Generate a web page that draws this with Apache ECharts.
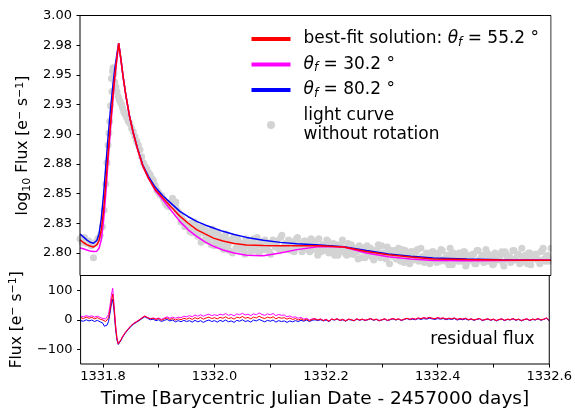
<!DOCTYPE html>
<html><head><meta charset="utf-8">
<script src="https://cdn.jsdelivr.net/npm/echarts@6/dist/echarts.min.js"></script>
<style>html,body{margin:0;padding:0;background:#fff}#c{width:575px;height:410px}</style>
</head><body><div id="c"></div>
<script>
// ---------- tick values / labels ----------
const xTickLabelValues = [1331.8, 1332.0, 1332.2, 1332.4, 1332.6];
const xTickMarkValues = [1331.8, 1331.9, 1332.0, 1332.1, 1332.2, 1332.3, 1332.4, 1332.5, 1332.6];
const yTopTickValues = [2.8, 2.825, 2.85, 2.875, 2.9, 2.925, 2.95, 2.975, 3.0];
const yTopTickLabels = ['2.80', '2.83', '2.85', '2.88', '2.90', '2.93', '2.95', '2.98', '3.00'];
const yBotTickValues = [-100, 0, 100];
const yBotTickLabels = ['\u2212100', '0', '100'];

// ---------- light curve without rotation (gray points) ----------
const lcTime = [
1331.760,1331.764,1331.768,1331.772,1331.776,1331.780,1331.784,1331.788,1331.792,1331.796,1331.800,
1331.803,1331.806,1331.808,1331.810,1331.8115,1331.813,1331.8145,1331.816,1331.817,1331.818,1331.819,1331.8205,
1331.822,1331.824,1331.826,1331.828,1331.830,1331.832,1331.834,1331.836,1331.838,1331.840,1331.843,1331.846,
1331.849,1331.852,1331.855,1331.858,1331.861,1331.864,1331.867,1331.870,1331.873,1331.876,1331.879,1331.882,
1331.885,1331.888,1331.891,1331.894,1331.897,1331.900,1331.903,1331.906,1331.909,1331.912,1331.915,1331.918,
1331.921,1331.924,1331.925,1331.927,1331.930,1331.931,1331.933,1331.936,1331.939,1331.940,1331.942,1331.945,
1331.947,1331.948,1331.951,1331.954,1331.956,
1331.958,1331.962,1331.966,1331.970,1331.974,1331.978,1331.982,1331.986,1331.990,1331.994,1331.998,
1332.002,1332.006,1332.010,1332.014,1332.018,1332.022,1332.026,1332.030,1332.034,1332.038,1332.042,1332.046,
1332.050,1332.054,1332.058,1332.062,1332.066,1332.070,1332.074,1332.078,1332.082,1332.086,1332.090,1332.094,
1332.098,1332.102,1332.106,1332.110,1332.114,1332.118,1332.122,1332.126,1332.130,1332.134,1332.138,1332.142,
1332.146,1332.150,1332.154,1332.158,1332.162,1332.166,1332.170,1332.174,1332.178,1332.182,1332.186,1332.190,
1332.194,1332.198,1332.202,1332.206,1332.210,1332.214,1332.218,1332.222,1332.226,1332.230,1332.234,1332.238,
1332.242,1332.246,1332.250,1332.254,1332.258,1332.262,1332.266,1332.270,1332.274,1332.278,1332.282,1332.286,
1332.290,1332.294,1332.298,1332.302,1332.306,1332.310,1332.314,1332.318,1332.322,1332.326,1332.330,1332.334,
1332.338,1332.342,1332.346,1332.350,1332.354,1332.358,1332.362,1332.366,1332.370,1332.374,1332.378,1332.382,
1332.386,1332.390,1332.394,1332.398,1332.402,1332.406,1332.410,1332.414,1332.418,1332.422,1332.426,1332.430,
1332.434,1332.438,1332.442,1332.446,1332.450,1332.454,1332.458,1332.462,1332.466,1332.470,1332.474,1332.478,
1332.482,1332.486,1332.490,1332.494,1332.498,1332.502,1332.506,1332.510,1332.514,1332.518,1332.522,1332.526,
1332.530,1332.534,1332.538,1332.542,1332.546,1332.550,1332.554,1332.558,1332.562,1332.566,1332.570,1332.574,
1332.578,1332.582,1332.586,1332.590,1332.594,1332.598
];
const lcFlux = [
2.812,2.809,2.813,2.808,2.810,2.806,2.796,2.809,2.812,2.815,2.822,
2.836,2.858,2.876,2.891,2.901,2.911,2.924,2.947,2.936,2.953,2.956,2.951,
2.944,2.940,2.936,2.932,2.929,2.927,2.925,2.922,2.919,2.917,2.914,2.911,
2.909,2.905,2.902,2.898,2.894,2.891,2.887,2.881,2.876,2.873,2.871,2.868,
2.866,2.863,2.861,2.857,2.853,2.851,2.849,2.848,2.845,2.842,2.840,2.839,
2.842,2.844,2.846,2.842,2.839,2.843,2.836,2.834,2.832,2.826,2.829,2.827,
2.822,2.825,2.823,2.822,2.818,
2.825,2.818,2.824,2.814,2.818,2.822,2.811,2.814,2.815,2.807,2.815,
2.810,2.817,2.808,2.805,2.812,2.809,2.802,2.810,2.813,2.804,2.811,2.806,
2.806,2.799,2.809,2.808,2.804,2.812,2.802,2.807,2.809,2.803,2.811,2.805,
2.801,2.808,2.810,2.806,2.804,2.813,2.804,2.808,2.803,2.810,2.809,2.801,
2.812,2.806,2.808,2.804,2.810,2.808,2.801,2.805,2.808,2.803,2.812,2.801,
2.806,2.804,2.810,2.802,2.806,2.798,2.807,2.803,2.807,2.801,2.799,2.808,
2.803,2.799,2.804,2.801,2.806,2.796,2.804,2.801,2.798,2.804,2.796,2.800,
2.802,2.797,2.806,2.799,2.795,2.802,2.800,2.797,2.802,2.795,2.800,2.803,
2.792,2.799,2.797,2.801,2.794,2.800,2.803,2.795,2.797,2.792,2.800,2.798,
2.794,2.801,2.796,2.799,2.793,2.802,2.795,2.798,2.790,2.799,2.800,2.795,
2.793,2.798,2.796,2.801,2.792,2.797,2.794,2.799,2.791,2.802,2.795,2.798,
2.793,2.800,2.797,2.794,2.791,2.799,2.796,2.798,2.792,2.801,2.795,2.797,
2.793,2.802,2.794,2.799,2.792,2.797,2.798,2.791,2.800,2.795,2.796,2.799,
2.794,2.801,2.804,2.793,2.798,2.795
];
// second, interleaved set of points in the slow decay
const lcTimeB = [
1331.960,1331.964,1331.968,1331.972,1331.976,1331.980,1331.984,1331.988,1331.992,1331.996,
1332.000,1332.004,1332.008,1332.012,1332.016,1332.020,1332.024,1332.028,1332.032,1332.036,
1332.040,1332.044,1332.048,1332.052,1332.056,1332.060,1332.064,1332.068,1332.072,1332.076,
1332.080,1332.084,1332.088,1332.092,1332.096,1332.100,1332.104,1332.108,1332.112,1332.116,
1332.120,1332.124,1332.128,1332.132,1332.136,1332.140,1332.144,1332.148,1332.152,1332.156,
1332.160,1332.164,1332.168,1332.172,1332.176,1332.180,1332.184,1332.188,1332.192,1332.196,
1332.200,1332.204,1332.208,1332.212,1332.216,1332.220,1332.224,1332.228,1332.232,1332.236,
1332.240,1332.244,1332.248,1332.252,1332.256,1332.260,1332.264,1332.268,1332.272,1332.276,
1332.280,1332.284,1332.288,1332.292,1332.296,1332.300,1332.304,1332.308,1332.312,1332.316,
1332.320,1332.324,1332.328,1332.332,1332.336,1332.340,1332.344,1332.348,1332.352,1332.356,
1332.360,1332.364,1332.368,1332.372,1332.376,1332.380,1332.384,1332.388,1332.392,1332.396,
1332.400,1332.404,1332.408,1332.412,1332.416,1332.420,1332.424,1332.428,1332.432,1332.436,
1332.440,1332.444,1332.448,1332.452,1332.456,1332.460,1332.464,1332.468,1332.472,1332.476,
1332.480,1332.484,1332.488,1332.492,1332.496,1332.500,1332.504,1332.508,1332.512,1332.516,
1332.520,1332.524,1332.528,1332.532,1332.536,1332.540,1332.544,1332.548,1332.552,1332.556,
1332.560,1332.564,1332.568,1332.572,1332.576,1332.580,1332.584,1332.588,1332.592,1332.596,
1332.600
];
const lcFluxB = [
2.817,2.826,2.818,2.821,2.809,2.817,2.819,2.810,2.813,2.820,
2.806,2.811,2.808,2.813,2.803,2.816,2.807,2.811,2.800,2.810,
2.812,2.803,2.808,2.803,2.812,2.806,2.801,2.809,2.804,2.813,
2.800,2.807,2.810,2.803,2.808,2.799,2.811,2.805,2.810,2.803,
2.815,2.805,2.807,2.811,2.802,2.809,2.804,2.813,2.806,2.801,
2.810,2.807,2.802,2.812,2.803,2.810,2.798,2.805,2.807,2.802,
2.811,2.800,2.806,2.808,2.802,2.798,2.806,2.811,2.802,2.798,
2.804,2.807,2.799,2.802,2.795,2.805,2.802,2.796,2.806,2.798,
2.803,2.794,2.802,2.807,2.796,2.800,2.799,2.805,2.791,2.802,
2.801,2.795,2.804,2.793,2.799,2.802,2.796,2.791,2.801,2.798,
2.802,2.793,2.804,2.796,2.794,2.799,2.791,2.801,2.798,2.792,
2.800,2.803,2.795,2.793,2.797,2.804,2.790,2.798,2.795,2.800,
2.793,2.801,2.789,2.798,2.796,2.799,2.791,2.802,2.794,2.797,
2.792,2.803,2.793,2.798,2.790,2.800,2.796,2.794,2.801,2.789,
2.799,2.797,2.792,2.802,2.795,2.798,2.791,2.804,2.793,2.796,
2.800,2.790,2.798,2.799,2.794,2.791,2.802,2.795,2.797,2.793,
2.804
];

// ---------- model light curves ----------
const modelTime = [
1331.760,1331.766,1331.772,1331.778,1331.784,1331.790,1331.794,1331.798,1331.802,1331.806,
1331.810,1331.814,1331.818,1331.822,1331.826,1331.829,1331.833,1331.837,1331.842,1331.848,
1331.855,1331.863,1331.872,1331.882,1331.894,1331.908,1331.923,1331.938,1331.953,1331.968,
1331.983,1331.998,1332.015,1332.035,1332.057,1332.087,1332.117,1332.147,1332.187,1332.230,
1332.271,1332.310,1332.350,1332.390,1332.450,1332.510,1332.560,1332.600
];
const fluxBest = [
2.8110,2.8088,2.8070,2.8058,2.8050,2.8068,2.8105,2.8195,2.8355,2.8585,
2.8830,2.9065,2.9285,2.9485,2.9650,2.9768,2.9630,2.9480,2.9320,2.9160,
2.9010,2.8870,2.8735,2.8630,2.8535,2.8462,2.8385,2.8310,2.8250,2.8196,
2.8160,2.8125,2.8100,2.8080,2.8067,2.8063,2.8061,2.8061,2.8061,2.8050,
2.8013,2.7985,2.7965,2.7950,2.7944,2.7941,2.7939,2.7938
];
const fluxTheta30 = [
2.8042,2.8035,2.8025,2.8017,2.8012,2.8015,2.8040,2.8110,2.8270,2.8500,
2.8770,2.9020,2.9250,2.9470,2.9640,2.9765,2.9628,2.9480,2.9320,2.9157,
2.9008,2.8868,2.8730,2.8630,2.8528,2.8445,2.8355,2.8266,2.8195,2.8140,
2.8093,2.8056,2.8025,2.8000,2.7980,2.7977,2.8000,2.8028,2.8055,2.8050,
2.8000,2.7968,2.7948,2.7937,2.7935,2.7937,2.7938,2.7938
];
const fluxTheta80 = [
2.8160,2.8135,2.8110,2.8090,2.8082,2.8105,2.8160,2.8290,2.8490,2.8730,
2.8970,2.9190,2.9380,2.9550,2.9680,2.9765,2.9628,2.9480,2.9322,2.9160,
2.9012,2.8874,2.8740,2.8645,2.8555,2.8480,2.8415,2.8350,2.8305,2.8266,
2.8236,2.8210,2.8182,2.8155,2.8131,2.8106,2.8089,2.8078,2.8066,2.8053,
2.8020,2.7992,2.7972,2.7957,2.7948,2.7943,2.7940,2.7938
];

// ---------- residual flux ----------
const resTime = [
1331.760,1331.765,1331.770,1331.775,1331.780,1331.785,1331.790,1331.795,1331.800,
1331.8025,1331.805,1331.8075,1331.810,1331.8125,1331.815,1331.8175,1331.820,1331.8225,1331.825,1331.8275,1331.830,1331.8325,1331.835,
1331.840,1331.845,1331.850,1331.855,1331.860,1331.865,1331.870,1331.875,1331.880,1331.885,1331.890,1331.895,1331.900,1331.905,1331.910,1331.915,
1331.920,1331.925,1331.930,1331.935,1331.940,1331.945,1331.950,1331.955,1331.960,1331.965,1331.970,1331.975,1331.980,1331.985,1331.990,1331.995,
1332.000,1332.005,1332.010,1332.015,1332.020,1332.025,1332.030,1332.035,1332.040,1332.045,1332.050,1332.055,1332.060,1332.065,1332.070,1332.075,
1332.080,1332.085,1332.090,1332.095,1332.100,1332.105,1332.110,1332.115,1332.120,1332.125,1332.130,1332.135,1332.140,1332.145,1332.150,
1332.155,1332.160,1332.165,1332.170,1332.175,1332.180,1332.185,1332.190,1332.195,1332.200,
1332.205,1332.210,1332.215,1332.220,1332.225,1332.230,1332.235,1332.240,1332.245,1332.250,
1332.255,1332.260,1332.265,1332.270,1332.275,1332.280,1332.285,1332.290,1332.295,1332.300,
1332.305,1332.310,1332.315,1332.320,1332.325,1332.330,1332.335,1332.340,1332.345,1332.350,
1332.355,1332.360,1332.365,1332.370,1332.375,1332.380,1332.385,1332.390,1332.395,1332.400,
1332.405,1332.410,1332.415,1332.420,1332.425,1332.430,1332.435,1332.440,1332.445,1332.450,
1332.455,1332.460,1332.465,1332.470,1332.475,1332.480,1332.485,1332.490,1332.495,1332.500,
1332.505,1332.510,1332.515,1332.520,1332.525,1332.530,1332.535,1332.540,1332.545,1332.550,
1332.555,1332.560,1332.565,1332.570,1332.575,1332.580,1332.585,1332.590,1332.595,1332.600
];
const resBest = [
7,4,9,5,8,3,7,2,-1,
-4,-6,-2,6,30,62,87,40,-20,-62,-82,-78,-68,-58,
-44,-32,-21,-13,-7,-1,6,12,7,3,5,1,4,-2,3,6,
1,4,-1,3,0,5,2,6,1,7,3,8,2,6,9,4,
7,3,8,5,10,4,7,2,9,6,11,5,8,3,9,6,
12,7,4,9,6,10,3,8,5,7,2,6,1,4,-1,
3,-2,2,-4,1,3,-1,2,-3,1,
-5,2,0,3,-2,1,-4,2,0,-3,
3,-1,2,-2,1,4,-1,2,-3,0,
3,-2,1,4,0,3,-2,2,5,1,
4,2,6,3,7,4,8,5,3,7,
4,6,2,5,3,6,1,4,2,5,
0,3,-1,2,4,-2,1,3,-1,2,
-3,1,3,-2,2,0,4,-1,2,-3,
1,3,-2,2,0,4,-1,2,6,-3
];
const resTheta30 = [
12,10,14,11,13,9,12,8,4,
5,3,8,18,45,82,107,52,-12,-58,-80,-77,-67,-57,
-43,-31,-20,-12,-6,0,7,13,8,4,6,3,6,1,6,10,
5,9,5,9,7,12,10,14,10,16,12,17,12,16,19,14,
17,14,19,16,21,15,18,13,20,17,22,16,19,14,20,17,
23,18,15,20,17,21,14,18,15,16,10,13,8,10,5,
8,2,5,-1,3,4,0,3,-2,2,
-4,3,0,4,-2,2,-3,2,1,-3,
3,0,2,-1,1,4,0,2,-2,0,
4,-2,2,4,1,3,-1,2,5,2,
5,2,6,4,7,5,8,5,4,7,
5,6,3,5,4,6,2,4,3,5,
1,3,0,2,4,-1,1,3,0,2,
-2,1,3,-1,2,1,4,0,2,-2,
1,3,-1,2,1,4,0,2,6,-2
];
const resTheta80 = [
-3,-5,0,-4,-1,-6,-2,-7,-12,
-22,-25,-18,-6,20,50,70,28,-28,-68,-84,-80,-70,-60,
-46,-34,-23,-15,-9,-3,4,10,5,0,2,-3,0,-6,-2,1,
-4,-1,-7,-3,-7,-2,-6,-3,-8,-2,-7,-3,-9,-4,-1,-6,
-3,-8,-2,-6,-1,-7,-4,-9,-2,-5,0,-6,-3,-8,-1,-4,
1,-3,-7,-2,-5,-1,-8,-3,-6,-4,-9,-4,-7,-3,-6,
-2,-5,-1,-6,-2,0,-3,0,-4,-1,
-6,1,-1,2,-3,0,-5,1,-1,-4,
2,-2,1,-3,0,3,-2,1,-4,-1,
2,-3,0,3,-1,2,-3,1,4,0,
2,0,4,1,4,2,5,3,1,4,
2,4,0,3,1,4,-1,2,0,3,
-1,2,-2,1,3,-3,0,2,-2,1,
-4,0,2,-3,1,-1,3,-2,1,-4,
0,2,-3,1,-1,3,-2,1,5,-4
];

const zip = (xs, ys) => ys.map((y, i) => [xs[i], y]);
const FONT = 'DejaVu Sans';

const legendLabels = {
  best: '{g| }best-fit solution: {it|\u03b8}{sub|f} = 55.2 \u00b0',
  t30: '{g| }{it|\u03b8}{sub|f} = 30.2 \u00b0',
  t80: '{g| }{it|\u03b8}{sub|f} = 80.2 \u00b0',
  lc: '{g| }light curve\n{g| }without rotation'
};
const LINE_ICON = 'path://M0,0H39V4H0Z';

const chart = echarts.init(document.getElementById('c'), null, {renderer: 'canvas'});
const lineSeries = (name, xi, xs, ys, color, w, z) => ({
  name, type: 'line', xAxisIndex: xi, yAxisIndex: xi, data: zip(xs, ys),
  symbol: 'none', showSymbol: false, lineStyle: {color, width: w}, itemStyle: {color},
  z, emphasis: {disabled: true}, silent: true, animation: false
});

const option = {
  animation: false,
  backgroundColor: '#fff',
  grid: [
    {left: 80, right: 24, top: 15.5, height: 260, show: true, borderColor: '#000', borderWidth: 1, backgroundColor: 'transparent', z: 5},
    {left: 80, right: 24, top: 275.5, height: 89, show: true, borderColor: '#000', borderWidth: 1, backgroundColor: 'transparent', z: 5}
  ],
  xAxis: [
    {type: 'value', gridIndex: 0, min: 1331.76, max: 1332.6,
     axisLine: {show: false, onZero: false}, axisTick: {show: false}, axisLabel: {show: false}, splitLine: {show: false}},
    {type: 'value', gridIndex: 1, min: 1331.76, max: 1332.6,
     axisLine: {show: false, onZero: false}, splitLine: {show: false},
     axisTick: {show: true, inside: false, length: 3.5, customValues: xTickMarkValues, lineStyle: {color: '#000', width: 1}},
     axisLabel: {show: true, customValues: xTickLabelValues, formatter: v => v.toFixed(1), margin: 6,
                 fontFamily: FONT, fontSize: 13, color: '#000'},
     name: 'Time [Barycentric Julian Date - 2457000 days]', nameLocation: 'middle', nameGap: 26,
     nameTextStyle: {fontFamily: FONT, fontSize: 18.5, color: '#000'}}
  ],
  yAxis: [
    {type: 'value', gridIndex: 0, min: 2.781, max: 3.0,
     axisLine: {show: false, onZero: false}, splitLine: {show: false},
     axisTick: {show: true, inside: false, length: 3.5, customValues: yTopTickValues, lineStyle: {color: '#000', width: 1}},
     axisLabel: {show: true, customValues: yTopTickValues, margin: 8,
                 formatter: v => { const i = yTopTickValues.findIndex(t => Math.abs(t - v) < 1e-6); return i >= 0 ? yTopTickLabels[i] : ''; },
                 fontFamily: FONT, fontSize: 13, color: '#000'},
     name: 'log{sub|10} Flux [e{sup|\u2212} s{sup|\u22121}]', nameLocation: 'middle', nameGap: 41, nameRotate: 90,
     nameTextStyle: {fontFamily: FONT, fontSize: 15.5, color: '#000', lineHeight: 18,
       rich: {sub: {fontFamily: FONT, fontSize: 11, lineHeight: 8, verticalAlign: 'bottom', color: '#000'},
              sup: {fontFamily: FONT, fontSize: 11, lineHeight: 8, verticalAlign: 'top', color: '#000'}}}},
    {type: 'value', gridIndex: 1, min: -150, max: 150,
     axisLine: {show: false, onZero: false}, splitLine: {show: false},
     axisTick: {show: true, inside: false, length: 3.5, customValues: yBotTickValues, lineStyle: {color: '#000', width: 1}},
     axisLabel: {show: true, customValues: yBotTickValues, margin: 8,
                 formatter: v => { const i = yBotTickValues.indexOf(Math.round(v)); return i >= 0 ? yBotTickLabels[i] : ''; },
                 fontFamily: FONT, fontSize: 13, color: '#000'},
     name: 'Flux [e{sup|\u2212} s{sup|\u22121}]', nameLocation: 'middle', nameGap: 46, nameRotate: 90,
     nameTextStyle: {fontFamily: FONT, fontSize: 15.5, color: '#000', lineHeight: 18,
       rich: {sup: {fontFamily: FONT, fontSize: 11, lineHeight: 8, verticalAlign: 'top', color: '#000'}}}}
  ],
  legend: {
    orient: 'vertical', left: 251.5, top: 29.5, padding: 0, itemWidth: 39, itemHeight: 8, itemGap: 6.5,
    selectedMode: false,
    data: [{name: 'best', icon: LINE_ICON}, {name: 't30', icon: LINE_ICON}, {name: 't80', icon: LINE_ICON}, {name: 'lc', icon: 'circle'}],
    formatter: n => legendLabels[n],
    textStyle: {fontFamily: FONT, fontSize: 17, color: '#000', lineHeight: 19,
      rich: {
        g: {width: 8, fontSize: 17, fontFamily: FONT},
        it: {fontFamily: FONT, fontStyle: 'italic', fontSize: 17, color: '#000', lineHeight: 19},
        sub: {fontFamily: FONT, fontStyle: 'italic', fontSize: 12, color: '#000', lineHeight: 8, verticalAlign: 'bottom'}
      }}
  },
  graphic: [
    // mask so that scatter markers are clipped at the right frame edge, like the reference
    {type: 'rect', shape: {x: 551.6, y: 10, width: 30, height: 270}, style: {fill: '#fff'}, z: 50, silent: true},
    {type: 'text', x: 534.6, y: 340, z: 100,
     style: {text: 'residual flux', fontFamily: FONT, fontSize: 17, fill: '#000', align: 'right', verticalAlign: 'middle',
             textAlign: 'right', textVerticalAlign: 'middle'}}
  ],
  series: [
    {name: 'lc', type: 'scatter', xAxisIndex: 0, yAxisIndex: 0,
     data: zip(lcTime, lcFlux).concat(zip(lcTimeB, lcFluxB)),
     symbol: 'circle', symbolSize: 7, itemStyle: {color: '#d3d3d3', opacity: 1}, z: 1,
     emphasis: {disabled: true}, silent: true},
    lineSeries('t80', 0, modelTime, fluxTheta80, '#0000ff', 1.5, 2),
    lineSeries('t30', 0, modelTime, fluxTheta30, '#ff00ff', 1.5, 3),
    lineSeries('best', 0, modelTime, fluxBest, '#ff0000', 1.5, 4),
    lineSeries('res80', 1, resTime, resTheta80, '#0000ff', 1, 2),
    lineSeries('res30', 1, resTime, resTheta30, '#ff00ff', 1, 3),
    lineSeries('resBest', 1, resTime, resBest, '#ff0000', 1, 4)
  ]
};
chart.setOption(option);
</script></body></html>
